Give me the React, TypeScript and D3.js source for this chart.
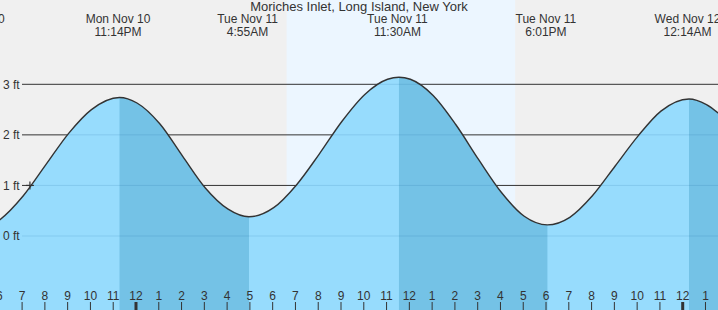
import React from "react";
import * as d3 from "d3";

const W = 718;
const H = 310;
const FONT = "'Liberation Sans', Arial, sans-serif";

const title = "Moriches Inlet, Long Island, New York";

// Tide extremes (UTC used as local wall-clock)
const extremeTimes = [
  "2025-11-10T16:50:00Z",
  "2025-11-10T23:14:00Z",
  "2025-11-11T04:55:00Z",
  "2025-11-11T11:30:00Z",
  "2025-11-11T18:01:00Z",
  "2025-11-12T00:14:00Z",
  "2025-11-12T06:30:00Z",
];
const extremeHeights = [0.12, 2.74, 0.38, 3.14, 0.22, 2.71, 0.35];
const extremeTypes = ["L", "H", "L", "H", "L", "H", "L"];

// Hourly readings (hours relative to Tue Nov 11 00:00)
const hourOffsets = [
  -8, -6, -5, -4, -3, -2, 0, 1, 2, 3, 4, 6, 7, 8, 9, 10, 11, 12, 13, 14, 15,
  16, 17, 19, 20, 21, 22, 23, 25, 26,
];
const hourHeights = [
  0.19, 0.33, 0.79, 1.41, 2.03, 2.5, 2.63, 2.22, 1.58, 0.95, 0.53, 0.56, 1.01,
  1.62, 2.27, 2.8, 3.1, 3.1, 2.78, 2.2, 1.51, 0.86, 0.39, 0.37, 0.8, 1.39, 1.98,
  2.47, 2.6, 2.24,
];

const sunTimes = ["2025-11-11T06:34:00Z", "2025-11-11T16:36:00Z"];
const yTicks = [0, 1, 2, 3];
const nowTime = "2025-11-10T19:18:00Z";
const nowHeight = 1.0;

const domainStart = "2025-11-10T17:59:10Z";
const domainEnd = "2025-11-12T01:30:20Z";
const baseDay = "2025-11-11T00:00:00Z";

export default function App() {
  const x = d3
    .scaleUtc()
    .domain([new Date(domainStart), new Date(domainEnd)])
    .range([0, W]);
  const y = d3.scaleLinear().domain([0, 3]).range([236, 84.3]);

  const base = new Date(baseDay).getTime();
  const pts: { t: Date; h: number }[] = [];
  hourOffsets.forEach((o, i) =>
    pts.push({ t: new Date(base + o * 3600000), h: hourHeights[i] })
  );
  extremeTimes.forEach((s, i) =>
    pts.push({ t: new Date(s), h: extremeHeights[i] })
  );
  pts.sort((a, b) => a.t.getTime() - b.t.getTime());

  const area = d3
    .area<{ t: Date; h: number }>()
    .x((d) => x(d.t))
    .y0(H)
    .y1((d) => y(d.h))
    .curve(d3.curveMonotoneX);
  const line = d3
    .line<{ t: Date; h: number }>()
    .x((d) => x(d.t))
    .y((d) => y(d.h))
    .curve(d3.curveMonotoneX);

  const areaPath = area(pts) || "";
  const linePath = line(pts) || "";

  const ebbs: [number, number][] = [];
  for (let i = 0; i < extremeTimes.length - 1; i++) {
    if (extremeTypes[i] === "H") {
      ebbs.push([x(new Date(extremeTimes[i])), x(new Date(extremeTimes[i + 1]))]);
    }
  }

  const hours = x.ticks(d3.utcHour.every(1) as any);
  const fmtHour = d3.utcFormat("%-I");
  const fmtDate = d3.utcFormat("%a %b %-d");
  const fmtTime = d3.utcFormat("%-I:%M%p");

  const sx0 = x(new Date(sunTimes[0]));
  const sx1 = x(new Date(sunTimes[1]));
  const nx = x(new Date(nowTime));
  const ny = y(nowHeight);

  return (
    <svg
      width={W}
      height={H}
      style={{ position: "absolute", left: 0, top: 0, display: "block" }}
      fontFamily={FONT}
    >
      <defs>
        <clipPath id="areaClip">
          <path d={areaPath} />
        </clipPath>
      </defs>
      <rect x={0} y={0} width={W} height={H} fill="#f0f0f0" />
      <rect x={sx0} y={0} width={sx1 - sx0} height={H} fill="#ecf6ff" />

      {yTicks.map((v) => (
        <line
          key={"g" + v}
          x1={22}
          x2={W}
          y1={y(v)}
          y2={y(v)}
          stroke="#333"
          strokeWidth={1}
        />
      ))}

      <path d={areaPath} fill="#97dcfd" />
      <g clipPath="url(#areaClip)">
        {ebbs.map(([a, b], i) => (
          <rect key={"e" + i} x={a} y={0} width={b - a} height={H} fill="#74c2e6" />
        ))}
        {yTicks.map((v) => (
          <line
            key={"gl" + v}
            x1={22}
            x2={W}
            y1={y(v)}
            y2={y(v)}
            stroke="rgba(0,80,140,0.13)"
            strokeWidth={1}
          />
        ))}
      </g>
      <path d={linePath} fill="none" stroke="#333" strokeWidth={1.4} />

      {yTicks.map((v) => (
        <text
          key={"yl" + v}
          x={3}
          y={y(v)}
          dy="0.36em"
          fontSize={12}
          fill="#333"
        >
          {v} ft
        </text>
      ))}

      <g stroke="#333" strokeWidth={1.2}>
        <line x1={nx - 4} x2={nx + 4} y1={ny} y2={ny} />
        <line x1={nx} x2={nx} y1={ny - 4} y2={ny + 4} />
      </g>

      {hours.map((d, i) => {
        const hx = x(d) - 1;
        const mid = d.getUTCHours() === 0;
        return (
          <g key={"h" + i}>
            <line
              x1={hx}
              x2={hx}
              y1={302}
              y2={H}
              stroke="#333"
              strokeWidth={mid ? 3 : 1}
            />
            <text x={hx} y={300} textAnchor="middle" fontSize={12} fill="#333">
              {fmtHour(d)}
            </text>
          </g>
        );
      })}

      {extremeTimes.map((s, i) => {
        const d = new Date(s);
        const cx = x(d) - 1.5;
        return (
          <g key={"l" + i}>
            <text x={cx} y={23} textAnchor="middle" fontSize={12} fill="#333">
              {fmtDate(d)}
            </text>
            <text x={cx} y={36} textAnchor="middle" fontSize={12} fill="#333">
              {fmtTime(d)}
            </text>
          </g>
        );
      })}

      <text x={359} y={10.5} textAnchor="middle" fontSize={13} fill="#333">
        {title}
      </text>
    </svg>
  );
}
